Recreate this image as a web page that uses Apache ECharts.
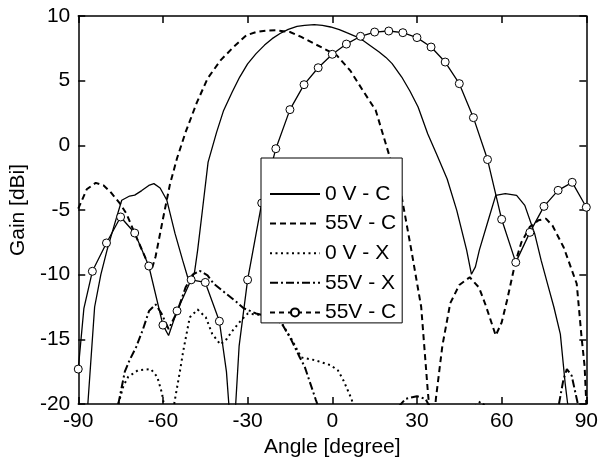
<!DOCTYPE html>
<html>
<head>
<meta charset="utf-8">
<script src="https://cdn.jsdelivr.net/npm/echarts@6/dist/echarts.min.js"></script>
<style>
  html, body { margin: 0; padding: 0; background: #fff; }
  #chart { width: 601px; height: 464px; }
</style>
</head>
<body>
<div id="chart"></div>
<script>
// Radiation pattern: gain vs. angle for co-pol (C) and cross-pol (X) at 0 V and 55 V bias.
// null marks a break in a trace (value below the plotted range).

const X_TICKS = [-90, -60, -30, 0, 30, 60, 90];
const Y_TICKS = [-20, -15, -10, -5, 0, 5, 10];

// 0 V - C (solid)
const ang0VC = [-86.6, -84.2, -82, -79.8, -77, -74.6, -71.8, -70, -67.5, -65, -63.2, -61, -58.6, -55.7, -53, -51.1, -50, -48.8, -47.7, -46, -44, -41, -38.5, -35.5, -32.8, -30, -27, -24, -21.3, -18.5, -15.6, -12.5, -9.8, -6.4, -3.5, -0.6, 2.5, 5.1, 8, 10.8, 13.5, 16.6, 19, 21.2, 24.6, 27.5, 30.4, 33.8, 37.2, 40.7, 44.1, 47.6, 49.3, 50.7, 52.1, 55.6, 57.9, 61.3, 65.3, 68.2, 71.7, 74, 76.5, 78.5, 80.8, 82.5, 83.4];
const gain0VC = [-20, -12.5, -10, -8.1, -6, -4.25, -3.92, -3.85, -3.5, -3.1, -2.96, -3.3, -4.25, -6.83, -8.9, -10.3, -10.5, -9.8, -8.1, -5, -1.3, 1.0, 2.7, 4.1, 5.28, 6.3, 7.09, 7.75, 8.25, 8.65, 8.97, 9.2, 9.28, 9.33, 9.28, 9.15, 8.95, 8.71, 8.45, 8.12, 7.7, 7.22, 6.8, 6.32, 5.28, 4.2, 2.96, 0.9, -0.8, -2.6, -5.03, -8.1, -9.97, -9.4, -8.1, -5.54, -3.87, -3.74, -3.87, -4.64, -6.83, -8.9, -10.9, -12.5, -14.6, -18.4, -20];

// 55V - C (dashed)
const ang55VC = [-90, -87, -83.8, -81, -78.6, -75.2, -72.9, -70, -67, -65, -64, -62.6, -60, -57.5, -55, -52, -48, -44.2, -39.6, -35, -30.5, -27, -23.5, -20.1, -15, -11, -6.4, -1.8, 1.6, 6.3, 10.8, 15.4, 20, 24.6, 28, 31.5, 33.8, 35.5, 36.7, 39, 41.8, 45, 48.7, 52, 54.4, 57.9, 60, 61.9, 64.8, 67, 70, 73, 75.7, 78, 82, 86.6, 88.3, 89.4, 90];
const gain55VC = [-4.9, -3.4, -2.9, -3.1, -3.6, -4.5, -5.3, -6.8, -8.3, -9.3, -9.6, -8.6, -5.7, -3.0, -1.0, 1.0, 3.3, 5.16, 6.57, 7.6, 8.5, 8.76, 8.87, 8.89, 8.76, 8.38, 7.86, 7.35, 6.96, 5.8, 4.25, 2.7, -0.64, -4.0, -8.1, -12.5, -18.9, -23, -19.6, -15.5, -12.2, -10.8, -10.2, -11, -12.4, -14.7, -13.7, -12, -9.1, -7.5, -6.3, -5.8, -5.67, -6.2, -7.9, -10.7, -14.8, -17.1, -20];

// 0 V - X (dotted)
const ang0VX = [-75.8, -74, -72.3, -68.9, -64.3, -62, -60.3, -59.7, null, -56, -55.7, -54, -52.8, -50.5, -47.7, -44.8, -42.5, -39.6, -37.5, -35.6, -32.2, -29.9, -26, -21.3, -17.8, -14.4, -11, -6.4, -0.6, 2, 4, 6.8, 7.3, null, 50.5, 52.5, 54.5];
const gain0VX = [-20, -18.6, -17.9, -17.4, -17.3, -17.9, -19.2, -20, null, -20, -19.6, -17.5, -15.9, -13.3, -12.7, -13.3, -14.6, -15.4, -15.0, -14.4, -13.5, -13.0, -13.1, -13.3, -13.8, -15.0, -16.4, -16.6, -17.0, -17.4, -18.2, -19.6, -20, null, -20.2, -19.8, -20.2];

// 55V - X (dash-dot)
const ang55VX = [-75.8, -73.5, -71.8, -69.5, -67.2, -64.9, -62.6, -60.5, -58, -55, -52, -49.5, -47, -44.2, -42, -38, -34, -31.4, -27, -21.3, -17.8, -14.4, -11.5, -9.8, -5.8, -5.3, null, 23.5, 26, 30, 33, 34.5, null, 80.3, 81.9, 83.1, 84.8, 86.6, 87];
const gain55VX = [-20, -17.5, -16.6, -15.6, -14.3, -12.8, -12.3, -13, -14.2, -12.9, -11, -10, -9.7, -10.05, -10.7, -11.4, -12.1, -12.6, -13.0, -13.3, -13.8, -15.1, -16.4, -17.1, -19.7, -20, null, -20.2, -19.6, -19.4, -19.6, -20.2, null, -20, -18.1, -17.3, -17.8, -19.6, -20];

// 55V - C (with circle markers every 5 degrees)
const ang55VCm = [-90, -88, -85, -80, -75, -70, -65, -60, -58, -55, -50, -45, -40, -37.5, -35.3, -33, -30, -25, -20, -15, -10, -5, 0, 5, 10, 15, 20, 25, 30, 35, 40, 45, 50, 55, 60, 65, 70, 75, 80, 85, 90];
const gain55VCm = [-17.3, -12.6, -9.74, -7.55, -5.54, -6.78, -9.33, -13.9, -14.7, -12.8, -10.4, -10.6, -13.6, -17.5, -24, -15.5, -10.4, -4.46, -0.26, 2.76, 4.69, 6.0, 7.04, 7.83, 8.43, 8.76, 8.84, 8.71, 8.33, 7.6, 6.44, 4.77, 2.14, -1.1, -5.72, -9.05, -6.73, -4.72, -3.48, -2.86, -4.79];

const NAMES = ['0 V - C', '55V - C', '0 V - X', '55V - X', '55V - C '];

function pairs(xs, ys) {
  return xs.map((x, i) => (x === null || ys[i] === null) ? ['-', '-'] : [x, ys[i]]);
}

const FONT = 'Liberation Sans, Arial, sans-serif';
const BLACK = '#000';

const markerData = ang55VCm.map((x, i) => {
  const item = { value: [x, gain55VCm[i]] };
  if (x % 5 !== 0) item.symbol = 'none';
  return item;
});

const chart = echarts.init(document.getElementById('chart'), null, { renderer: 'canvas' });

const axisCommon = {
  axisLine: { show: true, onZero: false, lineStyle: { color: BLACK, width: 1.5 } },
  axisTick: { show: true, inside: true, length: 7, lineStyle: { color: BLACK, width: 1.5 } },
  splitLine: { show: false }
};

// legend entries for plain lines: hide the symbol drawn in the icon
const noSymbol = { opacity: 0 };

chart.setOption({
  animation: false,
  backgroundColor: '#fff',
  textStyle: { fontFamily: FONT, color: BLACK },
  grid: { left: 67, right: 11, top: 16, bottom: 60, containLabel: false },
  xAxis: [
    Object.assign({
      type: 'value', position: 'bottom',
      min: X_TICKS[0], max: X_TICKS[X_TICKS.length - 1], interval: 30,
      name: 'Angle [degree]', nameLocation: 'middle', nameGap: 30,
      nameTextStyle: { fontFamily: FONT, fontSize: 21, color: BLACK },
      axisLabel: { fontFamily: FONT, fontSize: 21, color: BLACK, margin: 7 }
    }, axisCommon),
    Object.assign({
      type: 'value', position: 'top',
      min: X_TICKS[0], max: X_TICKS[X_TICKS.length - 1], interval: 30,
      axisLabel: { show: false }
    }, axisCommon)
  ],
  yAxis: [
    Object.assign({
      type: 'value', position: 'left',
      min: Y_TICKS[0], max: Y_TICKS[Y_TICKS.length - 1], interval: 5,
      name: 'Gain [dBi]', nameLocation: 'middle', nameGap: 27,
      nameTextStyle: { fontFamily: FONT, fontSize: 21, color: BLACK },
      axisLabel: { fontFamily: FONT, fontSize: 21, color: BLACK, margin: 8 }
    }, axisCommon),
    Object.assign({
      type: 'value', position: 'right',
      min: Y_TICKS[0], max: Y_TICKS[Y_TICKS.length - 1], interval: 5,
      axisLabel: { show: false }
    }, axisCommon)
  ],
  legend: {
    orient: 'vertical',
    left: 261, top: 158,
    padding: [25.5, 6, 0, 8],
    itemGap: 8.6,
    itemWidth: 50, itemHeight: 10,
    backgroundColor: '#fff',
    borderColor: BLACK, borderWidth: 1,
    z: 20,
    formatter: n => n.trim(),
    textStyle: { fontFamily: FONT, fontSize: 21, color: BLACK, lineHeight: 18 },
    data: [
      { name: NAMES[0], itemStyle: noSymbol },
      { name: NAMES[1], itemStyle: noSymbol },
      { name: NAMES[2], itemStyle: noSymbol },
      { name: NAMES[3], itemStyle: noSymbol },
      { name: NAMES[4], lineStyle: { type: [5, 4] } }
    ]
  },
  series: [
    {
      name: NAMES[0], type: 'line', symbol: 'none', clip: true,
      lineStyle: { color: BLACK, width: 1.3, type: 'solid' },
      itemStyle: { color: BLACK },
      data: pairs(ang0VC, gain0VC)
    },
    {
      name: NAMES[1], type: 'line', symbol: 'none', clip: true,
      lineStyle: { color: BLACK, width: 2, type: [6, 4] },
      itemStyle: { color: BLACK },
      data: pairs(ang55VC, gain55VC)
    },
    {
      name: NAMES[2], type: 'line', symbol: 'none', clip: true,
      lineStyle: { color: BLACK, width: 2, type: [2, 3.5] },
      itemStyle: { color: BLACK },
      data: pairs(ang0VX, gain0VX)
    },
    {
      name: NAMES[3], type: 'line', symbol: 'none', clip: true,
      lineStyle: { color: BLACK, width: 2, type: [8, 3, 2, 3] },
      itemStyle: { color: BLACK },
      data: pairs(ang55VX, gain55VX)
    },
    {
      name: NAMES[4], type: 'line', symbol: 'circle', symbolSize: 8, clip: true,
      showAllSymbol: true,
      lineStyle: { color: BLACK, width: 1.3, type: 'solid' },
      itemStyle: { color: '#fff', borderColor: BLACK, borderWidth: 1 },
      data: markerData
    }
  ]
});
</script>
</body>
</html>
